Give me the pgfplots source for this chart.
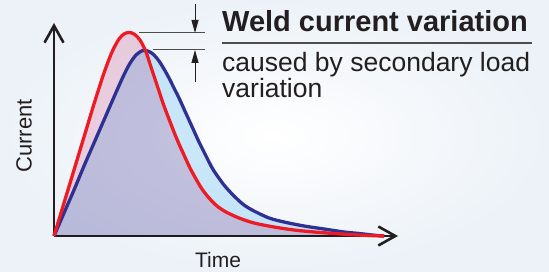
\documentclass[border=0pt]{standalone}
\usepackage{pgfplots}
\pgfplotsset{compat=1.18}
\usepackage{fontspec}
\setmainfont{Liberation Sans}
\usetikzlibrary{arrows.meta}
\definecolor{redline}{RGB}{237,28,36}
\definecolor{blueline}{RGB}{46,49,146}
\definecolor{pinkfill}{RGB}{246,213,227}
\definecolor{bluefill}{RGB}{207,235,252}
\definecolor{txt}{RGB}{35,31,32}
\pgfplotstableread{
x y
0 0
10 23
20 46
30 70
40 93
50 116
60 139
68 157
75 171
82 181
89 185.5
95 184.5
100 181
105 175
110 167
115 158
120 148
125 138
130 127
135 116
140 105
145 94
150 84
155 74
160 65
170 51
180 40
190 31
200 25
215 18
230 14
250 10
270 7
290 4
305 2.5
320 0.8
330 0
}\bluedata
\pgfplotstableread{
x y
0 0
10 33
20 66
30 99
40 132
50 163
58 184
65 197
70 202
75 203.5
80 202
86 196
92 184
96 172
100 160
105 145
110 130
115 117
120 104
125 92
130 81
136 68
142 57
148 47
155 38
163 30
172 24
185 18
200 13
220 9
240 6
260 4
280 2.5
300 1.2
320 0.3
330 0
}\reddata
\begin{document}
\begin{tikzpicture}[x=1pt,y=1pt]
\shade[inner color=white, outer color={rgb,255:red,236;green,242;blue,248}] (0,0) rectangle (549,272);
\path[use as bounding box] (0,0) rectangle (549,272);
\begin{axis}[
  at={(54pt,36pt)}, anchor=south west,
  x=1pt, y=1pt,
  xmin=0, xmax=344, ymin=0, ymax=213,
  axis lines=left,
  xtick=\empty, ytick=\empty,
  clip=false,
  axis line style={line width=2.6pt, color=txt},
  x axis line style={-{Straight Barb[length=17pt,width=19pt,line width=2.6pt]}},
  y axis line style={-{Straight Barb[length=17pt,width=19pt,line width=2.6pt]}},
]
\addplot[fill=bluefill, draw=none, smooth, tension=0.5, blend mode=multiply] table {\bluedata} \closedcycle;
\addplot[fill=pinkfill, draw=none, smooth, tension=0.5, blend mode=multiply] table {\reddata} \closedcycle;
\addplot[blueline, line width=3.3pt, smooth, tension=0.5] table {\bluedata};
\addplot[redline, line width=3.3pt, smooth, tension=0.5] table {\reddata};
% annotation
\draw[txt!80, line width=1pt] (axis cs:85,203) -- (axis cs:151,203);
\draw[txt!80, line width=1pt] (axis cs:99,186) -- (axis cs:151,186);
\draw[txt, line width=1pt, -{Triangle[length=13pt,width=7pt]}] (axis cs:141,232) -- (axis cs:141,203);
\draw[txt, line width=1pt, -{Triangle[length=13pt,width=7pt]}] (axis cs:141,154) -- (axis cs:141,186);
\node[anchor=base west, inner sep=0pt, text=txt, font=\fontsize{29}{34}\selectfont\bfseries] at (axis cs:168,204) {Weld current variation};
\draw[txt!80, line width=1.3pt] (axis cs:168,193) -- (axis cs:478,193);
\node[anchor=base west, inner sep=0pt, text=txt, font=\fontsize{26.5}{30}\selectfont] at (axis cs:168,164) {caused by secondary load};
\node[anchor=base west, inner sep=0pt, text=txt, font=\fontsize{26.5}{30}\selectfont] at (axis cs:168,138) {variation};
\node[anchor=base, inner sep=0pt, text=txt, font=\fontsize{21}{24}\selectfont] at (axis cs:164,-32) {Time};
\node[rotate=90, inner sep=0pt, text=txt, font=\fontsize{22}{26}\selectfont] at (axis cs:-30,100) {Current};
\end{axis}
\end{tikzpicture}
\end{document}
